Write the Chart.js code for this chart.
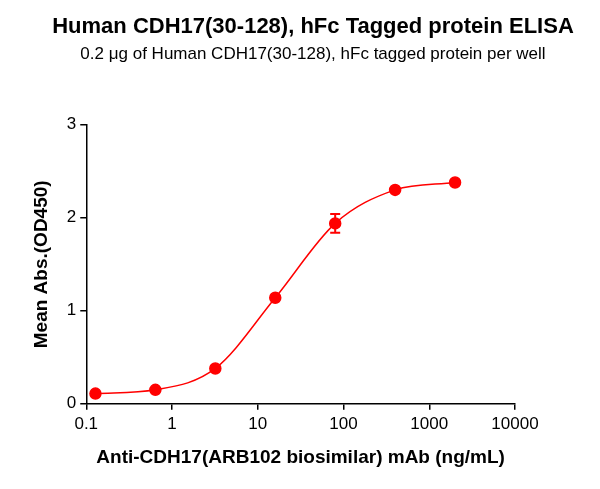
<!DOCTYPE html>
<html><head><meta charset="utf-8">
<script src="https://cdn.jsdelivr.net/npm/chart.js@4"></script>
<style>html,body{margin:0;padding:0;background:#fff}#w{width:600px;height:489px}</style>
</head><body><div id="w"><canvas id="c"></canvas></div>
<script>
const concentrations = [0.128, 0.64, 3.2, 16, 80, 400, 2000];
const meanOD = [0.11, 0.15, 0.38, 1.14, 1.94, 2.30, 2.38];
const errOD = [0.01, 0.01, 0.02, 0.03, 0.10, 0.02, 0.02];
const xTicks = [0.1, 1, 10, 100, 1000, 10000];
const yTicks = [0, 1, 2, 3];
const red = '#ff0000';
const F = '"Liberation Sans", Arial, sans-serif';
const errPlugin = {id:'err', afterDatasetsDraw(ch){
  const {ctx, scales:{x,y}} = ch;
  ctx.save(); ctx.strokeStyle=red; ctx.lineWidth=2;
  concentrations.forEach((c,i)=>{
    if(errOD[i] < 0.05) return;
    const px=x.getPixelForValue(c), t=y.getPixelForValue(meanOD[i]+errOD[i]), b=y.getPixelForValue(meanOD[i]-errOD[i]);
    ctx.beginPath(); ctx.moveTo(px,t); ctx.lineTo(px,b);
    ctx.moveTo(px-5,t); ctx.lineTo(px+5,t); ctx.moveTo(px-5,b); ctx.lineTo(px+5,b); ctx.stroke();
  });
  ctx.restore();
}};
new Chart(document.getElementById('c'), {
  type:'line',
  data:{datasets:[{data:concentrations.map((c,i)=>({x:c,y:meanOD[i]})),
    borderColor:red, backgroundColor:red, borderWidth:1.5, pointRadius:5.5, pointHoverRadius:5.5,
    cubicInterpolationMode:'monotone'}]},
  options:{responsive:true, maintainAspectRatio:false, animation:false,
    layout:{padding:{left:26,right:0,top:6,bottom:16}},
    plugins:{legend:{display:false}, tooltip:{enabled:false},
      title:{display:true, text:'Human CDH17(30-128), hFc Tagged protein ELISA', color:'#000', font:{family:F,size:22,weight:'bold'}, padding:{top:8,bottom:4}},
      subtitle:{display:true, text:'0.2 μg of Human CDH17(30-128), hFc tagged protein per well', color:'#000', font:{family:F,size:17}, padding:{bottom:60}}},
    scales:{
      x:{type:'logarithmic', min:0.1, max:10000,
        afterBuildTicks(a){a.ticks=xTicks.map(v=>({value:v}));},
        ticks:{color:'#000', font:{family:F,size:17}, callback:v=>String(v), maxRotation:0, padding:4},
        grid:{display:true, drawOnChartArea:false, tickLength:6, tickColor:'#000', lineWidth:1.5},
        border:{color:'#000', width:1.5},
        title:{display:true, text:'Anti-CDH17(ARB102 biosimilar) mAb (ng/mL)', color:'#000', font:{family:F,size:19,weight:'bold'}, padding:{top:8}}},
      y:{min:0, max:3,
        afterBuildTicks(a){a.ticks=yTicks.map(v=>({value:v}));},
        ticks:{color:'#000', font:{family:F,size:17}, padding:4},
        grid:{display:true, drawOnChartArea:false, tickLength:6, tickColor:'#000', lineWidth:1.5},
        border:{color:'#000', width:1.5},
        title:{display:true, text:'Mean Abs.(OD450)', color:'#000', font:{family:F,size:19,weight:'bold'}, padding:{bottom:10}}},
      y2:{position:'right', min:0, max:3, display:true,
        afterFit(a){a.width=85;},
        ticks:{display:false}, grid:{display:false}, border:{display:false}}
    }},
  plugins:[errPlugin]
});
</script></body></html>
